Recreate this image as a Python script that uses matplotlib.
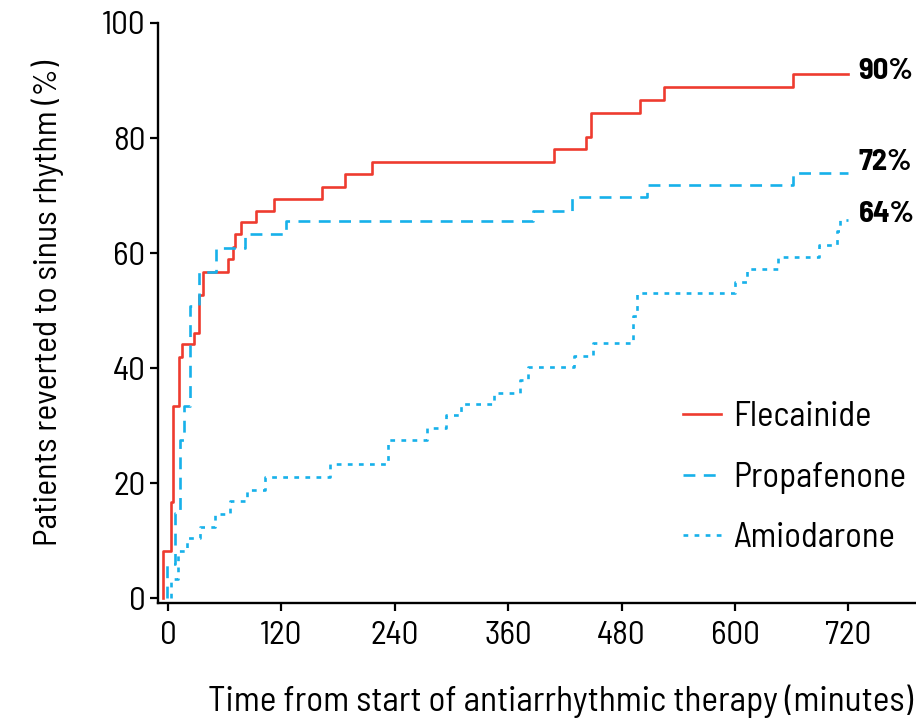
import matplotlib
matplotlib.use("Agg")
import matplotlib.pyplot as plt

plt.rcParams['font.family'] = ['Barlow Semi Condensed', 'DejaVu Sans']

RED = '#EE3B2F'
BLUE = '#17B1EA'

# step times (minutes) and cumulative % reverted after each step
flec_t = [-5, 2.8, 5.6, 12, 15, 27.8, 32.8, 37, 63.3, 68.4, 71, 77, 93, 112, 163, 187, 216,
          408, 442, 448, 499, 524.5, 661, 720]
flec_y = [8.2, 16.7, 33.5, 42.0, 44.2, 46.1, 52.8, 56.8, 58.9, 61.0, 63.3, 65.5, 67.3, 69.4,
          71.5, 73.7, 75.8, 78.1, 80.2, 84.3, 86.6, 88.9, 91.1, 91.1]

prop_t = [-1.4, 7.4, 12.7, 16.5, 23, 33, 50.8, 81.5, 125, 386, 427, 507, 661.7, 720]
prop_y = [5.9, 14.9, 27.6, 33.5, 50.8, 56.7, 60.9, 63.3, 65.6, 67.3, 69.8, 71.8, 73.9, 73.9]

amio_t = [2.8, 10.9, 19.7, 33.9, 49.7, 65.6, 83.3, 102.6, 171.4, 233, 274, 294, 310, 345,
          372, 381, 430, 450, 492, 496, 600, 613, 645, 689, 707.6, 711, 720]
amio_y = [3.3, 8.2, 10.5, 12.4, 14.6, 16.9, 18.9, 21.1, 23.3, 27.6, 29.6, 31.9, 33.7, 35.7,
          38.0, 40.2, 42.2, 44.4, 49.0, 53.0, 55.0, 57.3, 59.4, 61.5, 63.8, 65.8, 65.8]

end_labels = ['90%', '72%', '64%']
end_label_y = [91.5, 75.7, 66.7]

xticks = [0, 120, 240, 360, 480, 600, 720]
yticks = [0, 20, 40, 60, 80, 100]

fig = plt.figure(figsize=(9.16, 7.19), dpi=100)
ax = fig.add_axes([158 / 916, 116 / 719, 758 / 916, 580 / 719])

series = [
    (flec_t, flec_y, 'Flecainide', RED, '-'),
    (prop_t, prop_y, 'Propafenone', BLUE, (0, (4.5, 3.2))),
    (amio_t, amio_y, 'Amiodarone', BLUE, (0, (1.8, 2.4))),
]
for t, y, name, col, ls in series:
    ax.step([t[0]] + t, [0] + y, where='post', color=col, lw=1.9, ls=ls, label=name)

for lab, yy in zip(end_labels, end_label_y):
    ax.text(731, yy, lab, fontsize=22, fontweight='bold', va='center', ha='left', clip_on=False)

ax.set_xlim(-10.6, 791.5)
ax.set_ylim(-0.8, 100)
ax.set_xticks(xticks)
ax.set_yticks(yticks)
for s in ['top', 'right']:
    ax.spines[s].set_visible(False)
for s in ['left', 'bottom']:
    ax.spines[s].set_linewidth(1.7)
ax.tick_params(axis='both', direction='out', length=6, width=1.6, labelsize=24)
ax.tick_params(axis='x', pad=7)
ax.tick_params(axis='y', pad=3)

fig.text(48 / 916, 1 - 303 / 719, 'Patients reverted to sinus rhythm (%)',
         fontsize=24.3, rotation=90, ha='center', va='center')
fig.text(560 / 916, 1 - 701 / 719, 'Time from start of antiarrhythmic therapy (minutes)',
         fontsize=25.4, ha='center', va='center')

ax.legend(loc='center left', bbox_to_anchor=(0.652, 0.216), frameon=False, fontsize=25,
          handlelength=1.07, handletextpad=0.37, labelspacing=0.82)

fig.savefig('out.png', dpi=100)
